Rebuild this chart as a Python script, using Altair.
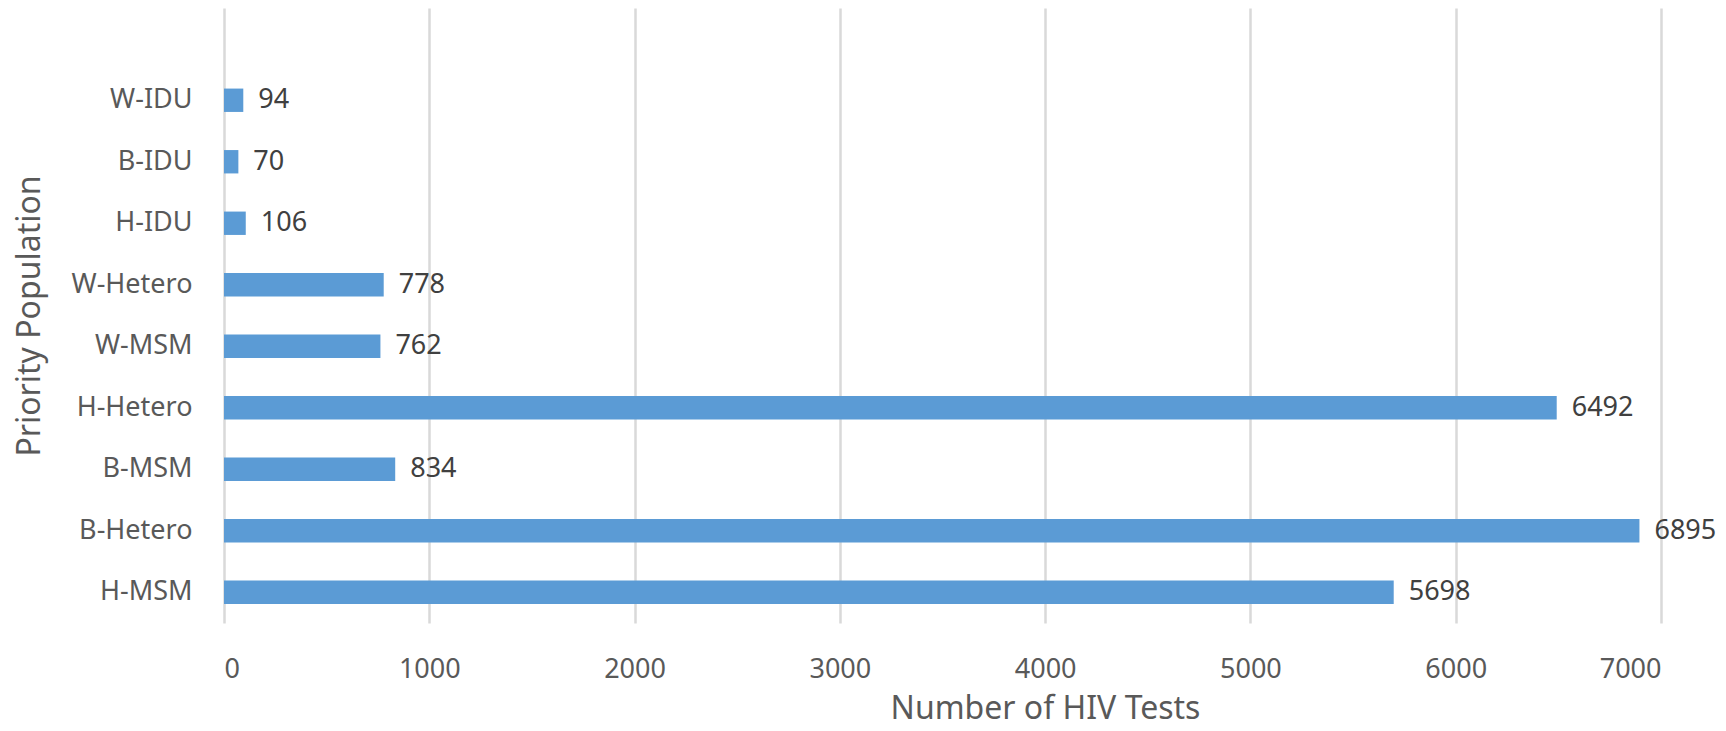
import altair as alt
import pandas as pd

categories = ["W-IDU", "B-IDU", "H-IDU", "W-Hetero", "W-MSM", "H-Hetero", "B-MSM", "B-Hetero", "H-MSM"]
tests = [94, 70, 106, 778, 762, 6492, 834, 6895, 5698]
x_ticks = [0, 1000, 2000, 3000, 4000, 5000, 6000, 7000]

df = pd.DataFrame({"pop": categories, "tests": tests})
y_domain = [""] + categories

FONT = "Noto Sans"

y_enc = alt.Y(
    "pop:N",
    sort=y_domain,
    scale=alt.Scale(domain=y_domain, paddingInner=0.62, paddingOuter=0.31),
    axis=alt.Axis(
        title="Priority Population",
        labelFont=FONT, labelFontSize=27, labelColor="#595959",
        labelPadding=32, labelBaseline="middle",
        ticks=False, domain=False, grid=False,
        titleFont=FONT, titleFontSize=32, titleColor="#595959", titleFontWeight="normal",
        titleAngle=270, titleX=-195, titleY=307.5, titleAlign="center", titleBaseline="middle",
    ),
)

x_enc = alt.X(
    "tests:Q",
    scale=alt.Scale(domain=[0, 7000], nice=False),
    axis=alt.Axis(
        values=x_ticks, format="d",
        title="Number of HIV Tests",
        labelFont=FONT, labelFontSize=27, labelColor="#595959",
        labelPadding=54, labelBaseline="alphabetic",
        ticks=False, domain=False,
        grid=True, gridColor="#d9d9d9", gridWidth=2.5,
        titleFont=FONT, titleFontSize=32, titleColor="#595959", titleFontWeight="normal",
        titleX=821, titleY=95, titleAlign="center", titleBaseline="alphabetic",
    ),
)

bars = alt.Chart(df).mark_bar(color="#5b9bd5").encode(x=x_enc, y=y_enc)

labels = alt.Chart(df).mark_text(
    align="left", baseline="middle", dx=15, font=FONT, fontSize=27, color="#404040"
).encode(
    x=alt.X("tests:Q"),
    y=alt.Y("pop:N", sort=y_domain),
    text=alt.Text("tests:Q", format="d"),
)

chart = (
    alt.layer(bars, labels)
    .properties(
        width=1437, height=615,
        autosize=alt.AutoSizeParams(type="none"),
        padding={"left": 216, "top": 0, "right": 57, "bottom": 99},
        background="white",
    )
    .configure_view(stroke=None)
)

chart.save("out.html", embed_options={"renderer": "svg", "actions": False})
